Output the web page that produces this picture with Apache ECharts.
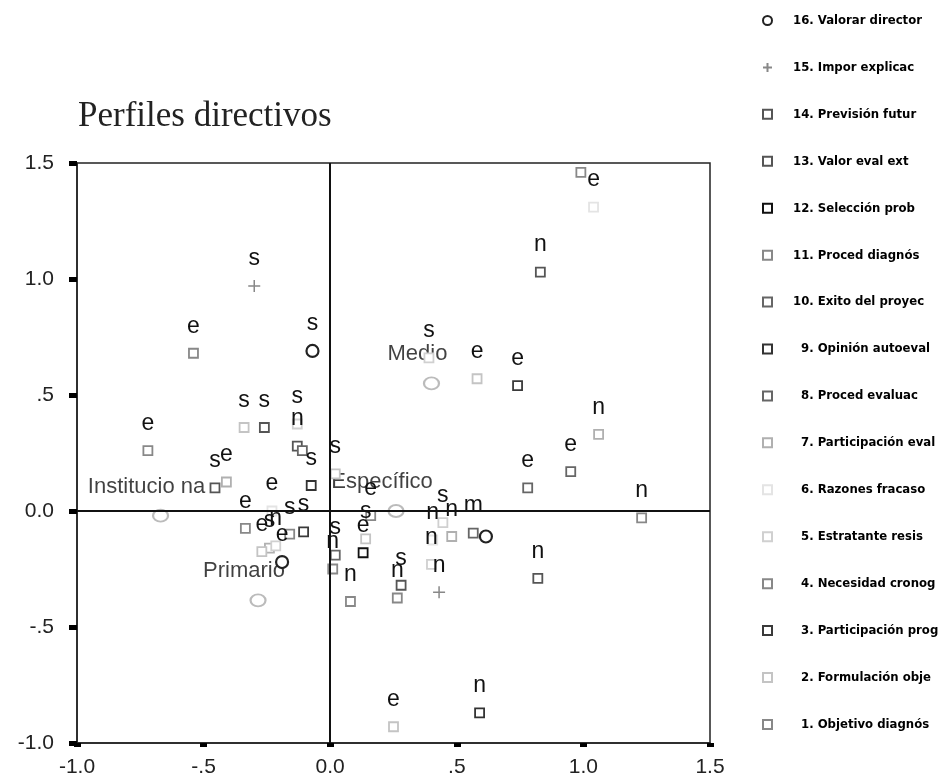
<!DOCTYPE html>
<html>
<head>
<meta charset="utf-8">
<script src="https://cdn.jsdelivr.net/npm/echarts@6/dist/echarts.min.js"></script>
<style>html,body{margin:0;padding:0;background:#fff;}#c{width:940px;height:779px;}</style>
</head>
<body>
<div id="c"></div>
<script>
// ---------- DATA ----------
const titleText = 'Perfiles directivos';
const xTickLabels = ['-1.0', '-.5', '0.0', '.5', '1.0', '1.5'];
const yTickLabels = ['-1.0', '-.5', '0.0', '.5', '1.0', '1.5'];
const seriesNames = [
  '16. Valorar director', '15. Impor explicac', '14. Previsión futur', '13. Valor eval ext',
  '12. Selección prob', '11. Proced diagnós', '10. Exito del proyec', '9. Opinión autoeval',
  '8. Proced evaluac', '7. Participación eval', '6. Razones fracaso', '5. Estratante resis',
  '4. Necesidad cronog', '3. Participación prog', '2. Formulación obje', '1. Objetivo diagnós'
];
// [x, y, label]
const v16 = [[-0.07, 0.69, 's'], [-0.19, -0.22, 'e'], [0.615, -0.11, '']];
const v15 = [[-0.30, 0.97, 's'], [0.43, -0.35, 'n']];
const v14 = [[0.82, -0.29, 'n'], [-0.26, 0.36, 's'], [0.28, -0.32, 's']];
const v13 = [[0.83, 1.03, 'n'], [-0.455, 0.10, 's'], [-0.13, 0.28, 'n']];
const v12 = [[0.13, -0.18, 'e']];
const v11 = [[-0.72, 0.26, 'e'], [0.16, -0.02, 'e'], [0.265, -0.375, 'n'], [0.99, 1.46, '']];
const v10 = [[0.95, 0.17, 'e'], [-0.11, 0.26, ''], [0.565, -0.095, 'm']];
const v9  = [[0.59, -0.87, 'n'], [-0.075, 0.11, 's']];
const v8  = [[0.78, 0.10, 'e'], [0.02, -0.19, 's']];
const v7  = [[1.06, 0.33, 'n'], [-0.41, 0.125, 'e'], [-0.24, -0.16, 's'], [0.48, -0.11, 'n']];
const v6  = [[1.04, 1.31, 'e'], [-0.23, 0.0, 'e'], [0.405, -0.125, 'n']];
const v5  = [[0.39, 0.66, 's'], [-0.13, 0.375, 's'], [-0.215, -0.15, 'n'], [0.445, -0.05, 's'], [0.40, -0.23, 'n']];
const v4  = [[1.23, -0.03, 'n'], [-0.335, -0.075, 'e'], [0.01, -0.25, 'n']];
const v3  = [[0.74, 0.54, 'e'], [-0.105, -0.09, 's']];
const v2  = [[0.58, 0.57, 'e'], [-0.34, 0.36, 's'], [-0.27, -0.175, 'e'], [0.14, -0.12, 's'], [0.25, -0.93, 'e'], [0.02, 0.16, 's']];
const v1  = [[-0.54, 0.68, 'e'], [-0.16, -0.10, 's'], [0.08, -0.39, 'n']];
const profiles = [[-0.67, -0.02, 'Institucio na'], [-0.285, -0.385, 'Primario'], [0.40, 0.55, 'Medio'], [0.26, 0.0, 'Específico']];
const seriesValues = [v16, v15, v14, v13, v12, v11, v10, v9, v8, v7, v6, v5, v4, v3, v2, v1];

// ---------- STYLE ----------
const colors = ['#222', '#888', '#555', '#555', '#111', '#888', '#666', '#333',
                '#666', '#b0b0b0', '#e4e4e4', '#d0d0d0', '#888', '#3a3a3a', '#c4c4c4', '#888'];
const plusPath = 'path://M5,0 L5,10 M0,5 L10,5';

const series = seriesValues.map((vals, i) => {
  const isCircle = i === 0, isPlus = i === 1;
  return {
    name: seriesNames[i],
    type: 'scatter',
    data: vals,
    encode: { x: 0, y: 1 },
    symbol: isCircle ? 'circle' : (isPlus ? plusPath : 'rect'),
    symbolSize: isCircle ? 12 : (isPlus ? 12 : 9),
    itemStyle: {
      color: isPlus ? 'rgba(0,0,0,0)' : '#fff',
      borderColor: colors[i],
      borderWidth: isCircle ? 2.2 : (isPlus ? 1.5 : 1.8),
      opacity: 1
    },
    label: {
      show: true,
      position: 'inside',
      offset: [0, -27],
      formatter: p => p.value[2],
      color: '#111',
      fontFamily: 'Liberation Sans, Arial, sans-serif',
      fontSize: 23
    },
    z: 3
  };
});

series.push({
  name: 'perfiles',
  type: 'scatter',
  data: profiles,
  encode: { x: 0, y: 1 },
  symbol: 'circle',
  symbolSize: [15, 12],
  itemStyle: { color: '#fff', borderColor: '#aaa', borderWidth: 2 },
  label: {
    show: true,
    position: 'inside',
    offset: [-14, -29],
    formatter: p => p.value[2],
    color: '#111',
    fontFamily: 'Liberation Sans, Arial, sans-serif',
    fontSize: 22
  },
  markLine: {
    silent: true,
    symbol: 'none',
    label: { show: false },
    lineStyle: { color: '#111', width: 2, type: 'solid' },
    data: [{ xAxis: 0 }, { yAxis: 0 }]
  },
  z: 2
});

const legendData = seriesNames.map(n => (
  /^\d\./.test(n) ? { name: n, textStyle: { padding: [0, 0, 0, 24] } } : { name: n }
));

const chart = echarts.init(document.getElementById('c'), null, { renderer: 'canvas' });
chart.setOption({
  animation: false,
  backgroundColor: '#fff',
  title: {
    text: titleText,
    left: 73,
    top: 94,
    textStyle: { fontFamily: 'Liberation Serif, DejaVu Serif, serif', fontWeight: 'normal', fontSize: 35, color: '#222' }
  },
  legend: {
    orient: 'vertical',
    left: 757,
    top: 9,
    itemWidth: 9,
    itemHeight: 9,
    itemGap: 33.93,
    data: legendData,
    selectedMode: false,
    textStyle: {
      fontFamily: 'Liberation Sans Narrow, DejaVu Sans Condensed, sans-serif',
      fontWeight: 'bold',
      fontSize: 13,
      color: '#000',
      padding: [0, 0, 0, 16]
    }
  },
  grid: { left: 77, right: 230, top: 163, bottom: 36, show: true, borderColor: '#222', borderWidth: 1.5, backgroundColor: 'transparent' },
  xAxis: {
    type: 'value', min: -1, max: 1.5, interval: 0.5,
    splitLine: { show: false },
    axisLine: { show: true, onZero: false, lineStyle: { color: '#222', width: 1.5 } },
    axisTick: { show: true, inside: false, length: 4, lineStyle: { color: '#000', width: 7 } },
    axisLabel: {
      margin: 14, color: '#222', fontSize: 21, fontFamily: 'Liberation Sans, Arial, sans-serif',
      formatter: v => xTickLabels[Math.round((v + 1) / 0.5)]
    }
  },
  yAxis: {
    type: 'value', min: -1, max: 1.5, interval: 0.5,
    splitLine: { show: false },
    axisLine: { show: true, onZero: false, lineStyle: { color: '#222', width: 1.5 } },
    axisTick: { show: true, inside: false, length: 8, lineStyle: { color: '#000', width: 5 } },
    axisLabel: {
      margin: 23, color: '#222', fontSize: 21, fontFamily: 'Liberation Sans, Arial, sans-serif',
      formatter: v => yTickLabels[Math.round((v + 1) / 0.5)]
    }
  },
  series: series
});
</script>
</body>
</html>
